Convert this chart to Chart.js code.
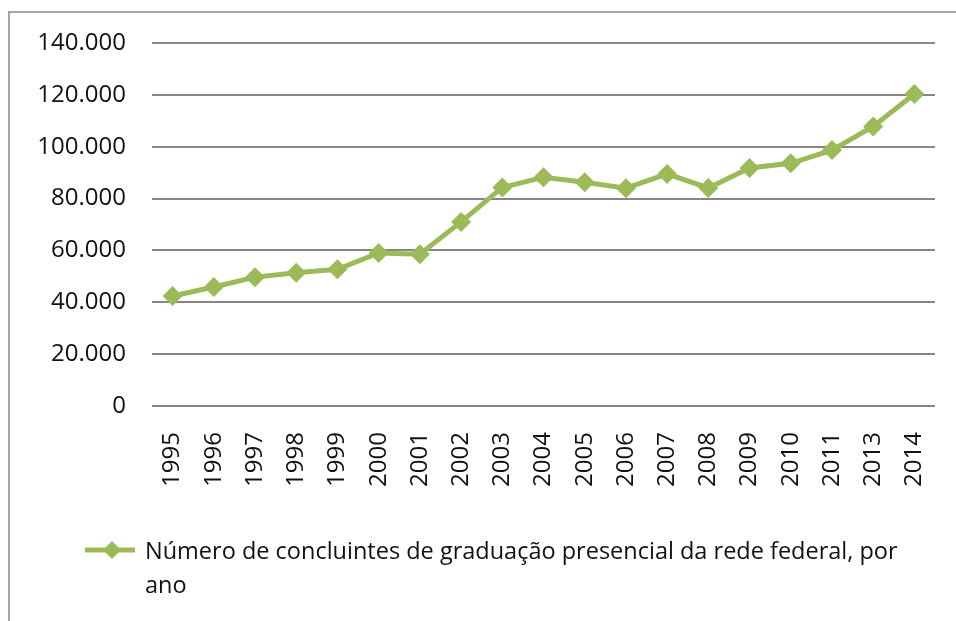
<!DOCTYPE html>
<html>
<head>
<meta charset="utf-8">
<script src="https://cdn.jsdelivr.net/npm/chart.js@4.4.0/dist/chart.umd.min.js"></script>
<style>
  html, body { margin: 0; padding: 0; background: #fff; }
  body { width: 956px; height: 621px; overflow: hidden; position: relative; font-family: "Open Sans", sans-serif; }
  #frame { position: absolute; left: 8px; top: 11px; width: 1000px; height: 700px; border: 2px solid #a6a6a6; box-sizing: border-box; }
  #wrap { position: absolute; left: 0; top: 0; width: 956px; height: 621px; }
  #legend { position: absolute; left: 85px; top: 533px; display: flex; align-items: flex-start; }
  #legend .mk { width: 50px; height: 30px; position: relative; flex: none; margin-right: 10px; margin-top: 2px; }
  #legend .txt { width: 770px; font-size: 23.5px; line-height: 34px; color: #111; }
</style>
</head>
<body>
<div id="frame"></div>
<div id="wrap"><canvas id="myChart" width="956" height="621"></canvas></div>
<div id="legend"></div>
<script>
// anos e número de concluintes
const anos = ["1995", "1996", "1997", "1998", "1999", "2000", "2001", "2002", "2003", "2004",
  "2005", "2006", "2007", "2008", "2009", "2010", "2011", "2013", "2014"];
const concluintes = [42400, 45900, 49700, 51400, 52700, 59000, 58500, 71000, 84300, 88200,
  86300, 84000, 89500, 84100, 91800, 93600, 98700, 107800, 120300];
const serieNome = "Número de concluintes de graduação presencial da rede federal, por ano";
const verde = "#9bbb59";

// legenda em html (o texto quebra linha)
const htmlLegend = {
  id: "htmlLegend",
  afterUpdate(chart) {
    const box = document.getElementById("legend");
    box.innerHTML = "";
    chart.data.datasets.forEach(ds => {
      const mk = document.createElement("canvas");
      mk.className = "mk";
      mk.width = 50; mk.height = 30;
      const c = mk.getContext("2d");
      c.strokeStyle = ds.borderColor; c.lineWidth = 5;
      c.beginPath(); c.moveTo(0, 15); c.lineTo(50, 15); c.stroke();
      c.fillStyle = ds.pointBackgroundColor;
      c.beginPath(); c.moveTo(27, 6); c.lineTo(36, 15); c.lineTo(27, 24); c.lineTo(18, 15); c.closePath(); c.fill();
      const t = document.createElement("div");
      t.className = "txt";
      t.textContent = ds.label;
      box.appendChild(mk);
      box.appendChild(t);
    });
  }
};

new Chart("myChart", {
  type: "line",
  data: {
    labels: anos,
    datasets: [{
      label: serieNome,
      data: concluintes,
      borderColor: verde,
      borderWidth: 5,
      pointStyle: "rectRot",
      pointRadius: 10,
      pointBorderWidth: 0,
      pointBackgroundColor: verde,
      pointBorderColor: verde,
      tension: 0
    }]
  },
  options: {
    responsive: false,
    animation: false,
    layout: { padding: { top: 43, right: 21, bottom: 0, left: 0 } },
    plugins: { legend: { display: false }, tooltip: { enabled: false } },
    scales: {
      x: {
        offset: true,
        grid: { display: false },
        border: { display: false },
        ticks: { minRotation: 90, maxRotation: 90, padding: 18, color: "#111", font: { family: "Open Sans", size: 24 } },
        afterFit(s) { s.height = 215; s.paddingLeft = 0; s.paddingRight = 0; }
      },
      y: {
        min: 0, max: 140000,
        grid: { color: "#868686", lineWidth: 2, drawTicks: false },
        border: { display: false },
        ticks: {
          stepSize: 20000, padding: 26, color: "#111", font: { family: "Open Sans", size: 24 },
          callback: v => v.toLocaleString("de-DE")
        },
        afterFit(s) { s.width = 152; }
      }
    }
  },
  plugins: [htmlLegend]
});
</script>
</body>
</html>
